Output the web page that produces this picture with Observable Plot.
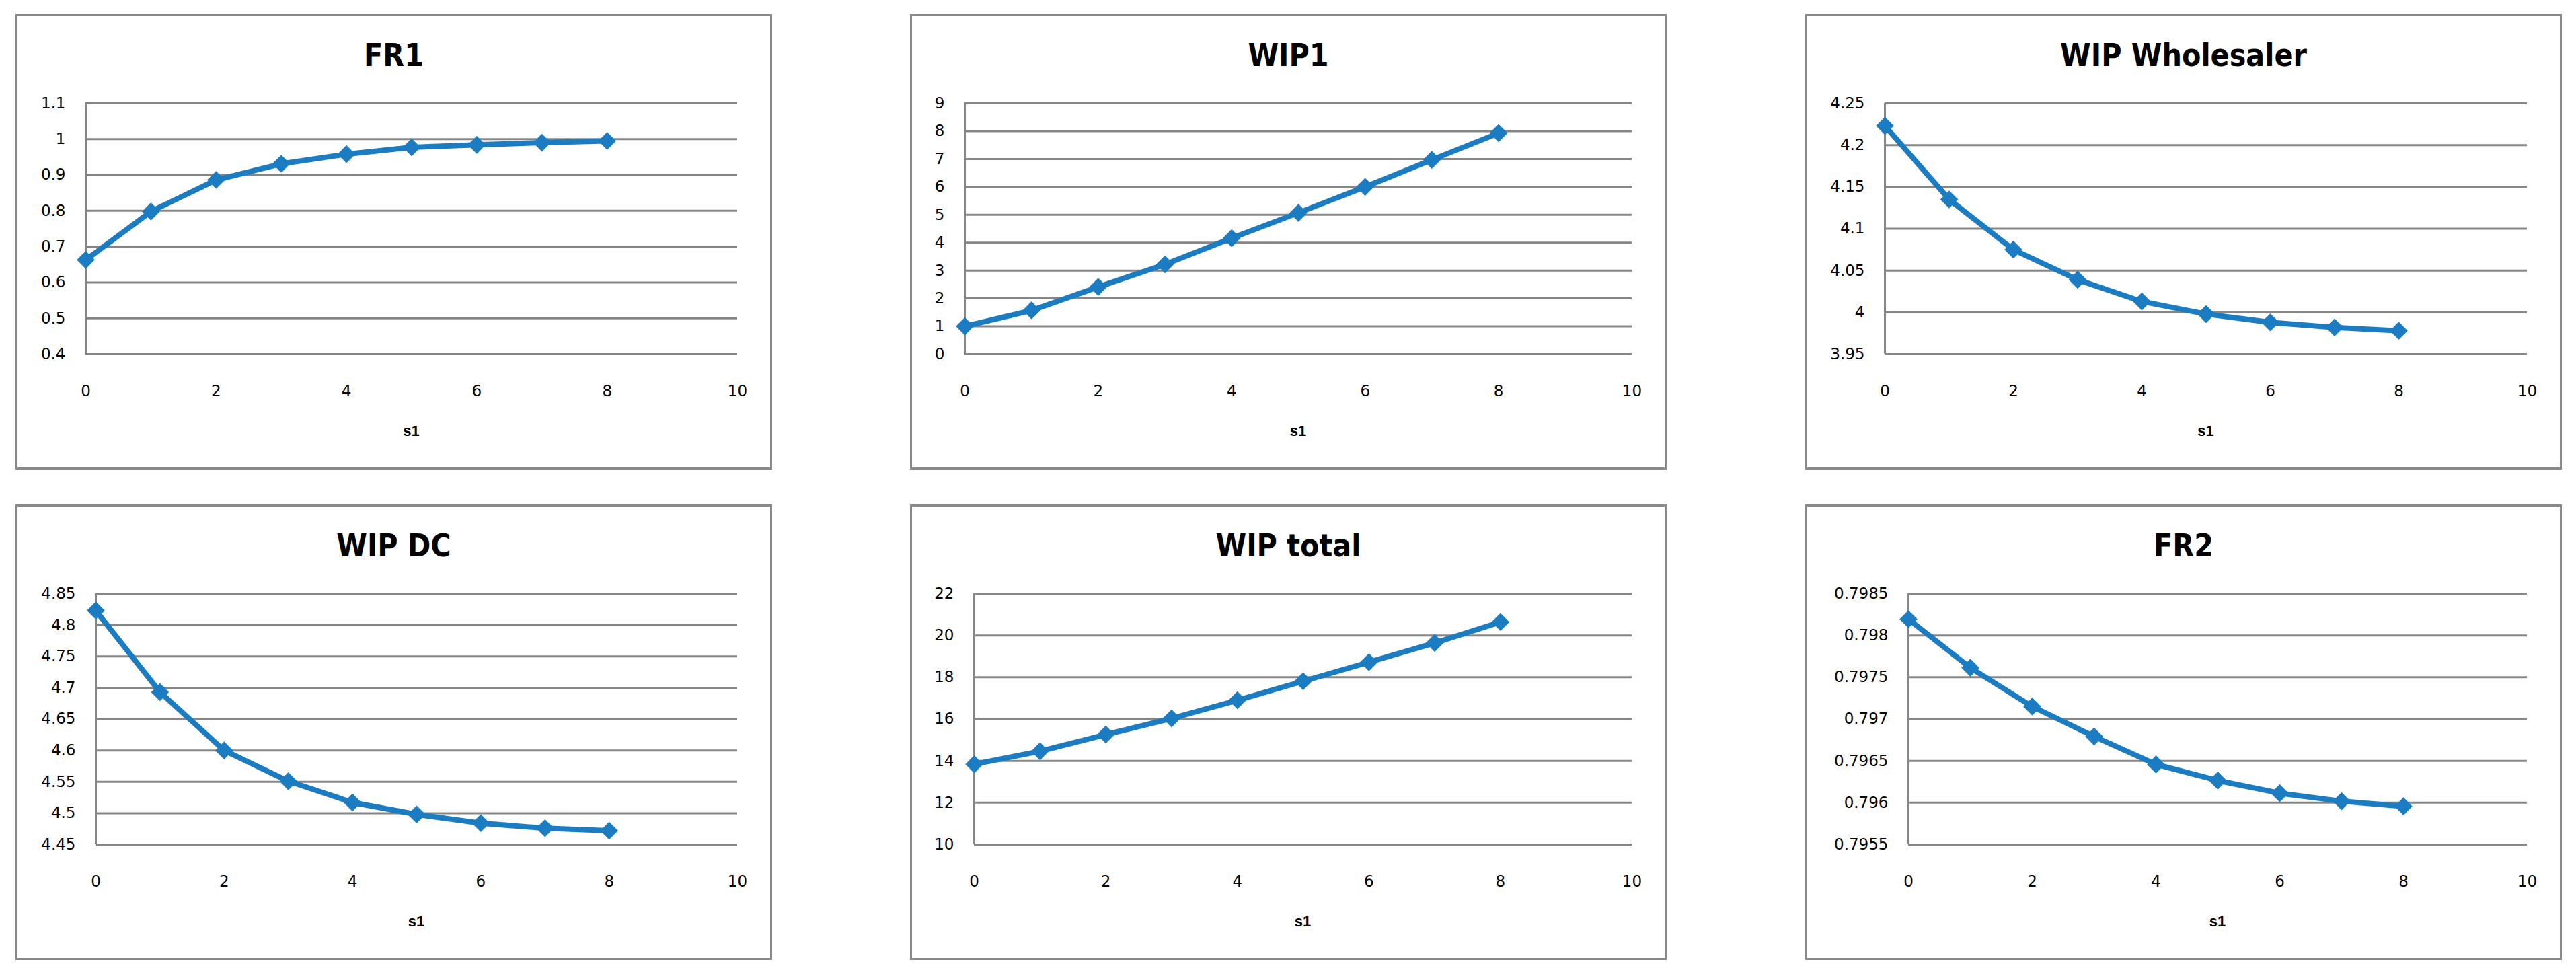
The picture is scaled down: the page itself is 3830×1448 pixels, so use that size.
<!DOCTYPE html>
<html>
<head>
<meta charset="utf-8">
<script src="https://cdn.jsdelivr.net/npm/d3@7"></script>
<script src="https://cdn.jsdelivr.net/npm/@observablehq/plot@0.6"></script>
<style>
  html, body { margin: 0; padding: 0; background: #ffffff; }
  #root { position: relative; width: 3830px; height: 1448px; background: #ffffff; overflow: hidden; }
  .box { position: absolute; box-sizing: border-box; border: 3px solid #898989; }
  .title { position: absolute; text-align: center; font-family: "DejaVu Sans Condensed", "Liberation Sans", Arial, sans-serif; font-stretch: condensed; font-weight: bold; font-size: 46px; line-height: 46px; color: #000; white-space: nowrap; }
  .xlabel { position: absolute; text-align: center; font-family: "Liberation Sans", Arial, sans-serif; font-weight: bold; font-size: 22px; line-height: 22px; color: #000; }
  svg.panel { position: absolute; }
</style>
</head>
<body>
<div id="root"></div>
<script>
// ---- data ----
const titles = ["FR1", "WIP1", "WIP Wholesaler", "WIP DC", "WIP total", "FR2"];
const xLabel = "s1";
const s1 = [0, 1, 2, 3, 4, 5, 6, 7, 8];
const xTicks = [0, 2, 4, 6, 8, 10];

const fr1 = [0.663, 0.798, 0.886, 0.931, 0.958, 0.977, 0.984, 0.990, 0.995];
const fr1Ticks = [0.4, 0.5, 0.6, 0.7, 0.8, 0.9, 1, 1.1];

const wip1 = [1.0, 1.57, 2.41, 3.22, 4.16, 5.07, 6.0, 6.97, 7.93];
const wip1Ticks = [0, 1, 2, 3, 4, 5, 6, 7, 8, 9];

const wipWholesaler = [4.223, 4.135, 4.075, 4.039, 4.013, 3.998, 3.988, 3.982, 3.978];
const wipWholesalerTicks = [3.95, 4, 4.05, 4.1, 4.15, 4.2, 4.25];

const wipDC = [4.823, 4.693, 4.600, 4.551, 4.517, 4.498, 4.484, 4.476, 4.472];
const wipDCTicks = [4.45, 4.5, 4.55, 4.6, 4.65, 4.7, 4.75, 4.8, 4.85];

const wipTotal = [13.84, 14.46, 15.26, 16.03, 16.9, 17.81, 18.72, 19.64, 20.64];
const wipTotalTicks = [10, 12, 14, 16, 18, 20, 22];

const fr2 = [0.798194, 0.797614, 0.79715, 0.796792, 0.796458, 0.796265, 0.796114, 0.796018, 0.795957];
const fr2Ticks = [0.7955, 0.796, 0.7965, 0.797, 0.7975, 0.798, 0.7985];

// ---- layout / style ----
const blue = "#1c7cc2";
const gridGray = "#868686";
const boxLefts = [23, 1353, 2684];
const boxTops = [21, 750];
const boxW = 1125, boxH = 677;
const mTop = 132, mBottom = 172, mRight = 52;

const panels = [
  {title: titles[0], values: fr1, ticks: fr1Ticks, col: 0, row: 0, ml: 104},
  {title: titles[1], values: wip1, ticks: wip1Ticks, col: 1, row: 0, ml: 81},
  {title: titles[2], values: wipWholesaler, ticks: wipWholesalerTicks, col: 2, row: 0, ml: 118},
  {title: titles[3], values: wipDC, ticks: wipDCTicks, col: 0, row: 1, ml: 119},
  {title: titles[4], values: wipTotal, ticks: wipTotalTicks, col: 1, row: 1, ml: 95},
  {title: titles[5], values: fr2, ticks: fr2Ticks, col: 2, row: 1, ml: 153}
];

const root = document.getElementById("root");

for (const p of panels) {
  const left = boxLefts[p.col], top = boxTops[p.row];
  const data = s1.map((s, i) => ({s, v: p.values[i]}));

  const box = document.createElement("div");
  box.className = "box";
  Object.assign(box.style, {left: left + "px", top: top + "px", width: boxW + "px", height: boxH + "px"});
  root.appendChild(box);

  const chart = Plot.plot({
    width: boxW,
    height: boxH,
    marginTop: mTop,
    marginBottom: mBottom,
    marginLeft: p.ml,
    marginRight: mRight,
    x: {domain: [xTicks[0], xTicks[xTicks.length - 1]]},
    y: {domain: [p.ticks[0], p.ticks[p.ticks.length - 1]]},
    style: {fontFamily: "'DejaVu Sans', sans-serif", fontSize: "23px", color: "#000", background: "transparent", overflow: "visible"},
    marks: [
      Plot.gridY(p.ticks, {stroke: gridGray, strokeOpacity: 1, strokeWidth: 3}),
      Plot.ruleX([xTicks[0]], {stroke: gridGray, strokeWidth: 3}),
      Plot.axisX(xTicks, {tickSize: 0, tickPadding: 46, tickFormat: d => String(d), label: null}),
      Plot.axisY(p.ticks, {tickSize: 0, tickPadding: 30, tickFormat: d => String(d), label: null}),
      Plot.line(data, {x: "s", y: "v", stroke: blue, strokeWidth: 8, strokeLinejoin: "round"}),
      Plot.dot(data, {x: "s", y: "v", symbol: "diamond2", r: 12, fill: blue, stroke: null})
    ]
  });
  chart.classList.add("panel");
  chart.style.left = left + "px";
  chart.style.top = top + "px";
  root.appendChild(chart);

  const t = document.createElement("div");
  t.className = "title";
  t.textContent = p.title;
  Object.assign(t.style, {left: left + "px", width: boxW + "px", top: (top + 38) + "px"});
  root.appendChild(t);

  const xl = document.createElement("div");
  xl.className = "xlabel";
  xl.textContent = xLabel;
  Object.assign(xl.style, {left: (left + p.ml) + "px", width: (boxW - p.ml - mRight) + "px", top: (top + 609) + "px"});
  root.appendChild(xl);
}
</script>
</body>
</html>
